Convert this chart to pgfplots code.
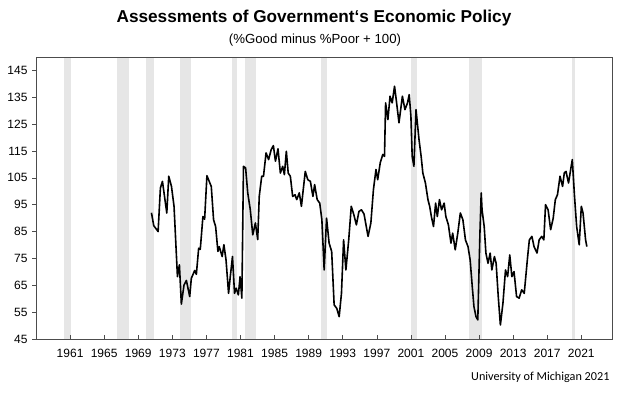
\documentclass[border=0pt]{standalone}
\usepackage{fontspec}
\setmainfont{Liberation Sans}
\newfontfamily\carlito{Carlito}
\usepackage{pgfplots}
\usepackage{pgfplotstable}
\pgfplotsset{compat=1.18}
\pgfplotstableread{
year val
1970.55 92
1970.82 87.2
1971.33 85
1971.6 101.2
1971.84 103.7
1972.35 91.9
1972.58 105.6
1972.9 101.8
1973.2 94.4
1973.6 68.2
1973.83 72.6
1974.06 58
1974.37 65.1
1974.65 66.8
1975.04 60.8
1975.23 67.6
1975.62 70.5
1975.82 69.1
1976.09 78.8
1976.28 78.4
1976.59 90.6
1976.79 89.6
1977.06 105.8
1977.57 101.8
1977.84 89.4
1978.08 86.9
1978.35 77.6
1978.5 79.4
1978.85 75.7
1979.05 80.1
1979.3 74.5
1979.6 62
1979.8 68.2
1980.06 75.7
1980.3 62
1980.5 63.9
1980.75 61.4
1980.95 68.2
1981.16 60.2
1981.35 109.3
1981.6 108.7
1981.85 99.4
1982.15 93.1
1982.44 83.8
1982.75 88.2
1983.02 82
1983.2 98.1
1983.49 105.6
1983.7 105.6
1984.0 114.3
1984.3 111.8
1984.6 115.5
1984.86 117
1985.1 111.2
1985.4 115.8
1985.68 106.8
1985.95 109.3
1986.15 106.2
1986.38 114.9
1986.6 106.8
1986.85 105.6
1987.12 98.1
1987.4 98.7
1987.6 96.9
1987.9 99.4
1988.15 94.4
1988.6 107.4
1988.9 104.3
1989.2 103.7
1989.5 98.1
1989.7 102.5
1990.0 96.9
1990.3 95.6
1990.55 89.4
1990.82 70.7
1991.1 90
1991.4 80.7
1991.7 77.6
1991.99 57.7
1992.3 56.4
1992.58 53.3
1992.85 62
1993.1 81.9
1993.37 70.7
1993.7 81.9
1994.0 94.4
1994.3 91.3
1994.6 87.5
1994.9 92.5
1995.2 93.1
1995.5 91.5
1995.97 83.2
1996.3 88.2
1996.6 100.6
1996.9 108.1
1997.1 104.3
1997.4 110.6
1997.7 113.7
1997.9 113
1998.03 132.9
1998.3 126.7
1998.55 135.4
1998.8 132.9
1999.08 139.1
1999.3 133.5
1999.6 125.5
2000.0 135.4
2000.3 130.4
2000.6 132.9
2000.8 136
2001.0 127.9
2001.15 113
2001.35 109.3
2001.6 130.4
2001.95 119.3
2002.2 113
2002.4 106.8
2002.7 103.1
2003.0 96.9
2003.2 94.4
2003.4 90.6
2003.65 86.9
2003.9 95.6
2004.1 90.6
2004.35 96.9
2004.6 93.1
2004.9 95.6
2005.1 90.6
2005.4 87.5
2005.7 80.7
2005.9 84.4
2006.2 78.2
2006.5 84.4
2006.8 91.9
2007.1 89.4
2007.4 81.9
2007.7 79.4
2007.95 74.5
2008.2 64.5
2008.4 57
2008.64 53.3
2008.85 52.1
2009.1 84.4
2009.25 99.4
2009.35 93.1
2009.6 86.9
2009.8 77
2010.05 73.2
2010.3 77
2010.5 70.7
2010.8 75.7
2011.0 73.2
2011.25 60.8
2011.5 50.2
2011.8 58.3
2012.1 70.7
2012.35 68.2
2012.6 76.3
2012.85 68.2
2013.1 70.1
2013.4 60.8
2013.7 60.2
2014.0 63.3
2014.3 62
2014.7 75.7
2014.9 81.9
2015.2 83.2
2015.45 79.4
2015.8 77
2016.05 81.9
2016.35 83.2
2016.6 81.9
2016.8 95
2017.1 93.1
2017.4 85.7
2017.7 90
2017.95 96.9
2018.2 98.7
2018.5 105.6
2018.8 101.8
2019.0 106.8
2019.2 107.4
2019.5 103.1
2019.75 108.1
2019.94 111.8
2020.2 98.1
2020.45 86.9
2020.75 80.1
2021.0 94.4
2021.2 91.9
2021.5 81.9
2021.65 79.4
}\policy
\definecolor{recess}{RGB}{230,230,230}
\begin{document}
\begin{tikzpicture}
\path[use as bounding box] (-36pt,-56pt) rectangle (588pt,339pt);
\begin{axis}[
  at={(0pt,0pt)}, anchor=south west,
  width=576pt, height=282pt, scale only axis,
  xmin=1957, xmax=2024.6, ymin=45, ymax=150,
  xtick={1961,1965,...,2021}, ytick={45,55,...,145},
  xtick pos=lower, ytick pos=left,
  x tick label style={/pgf/number format/1000 sep={}, yshift=-7pt},
  y tick label style={xshift=-1pt},
  tick label style={font=\fontsize{12}{14}\selectfont},
  /pgf/number format/assume math mode=true,
  axis line style={black!70, line width=0.8pt},
  every tick/.style={black!70, line width=0.6pt},
  major tick length=4pt,
  xtick align=inside, ytick align=outside,
  axis on top,
  clip=true,
]
\addplot[fill=recess, draw=none, forget plot] coordinates {(1960.3,45) (1960.3,150) (1961.1,150) (1961.1,45)} -- cycle;
\addplot[fill=recess, draw=none, forget plot] coordinates {(1966.45,45) (1966.45,150) (1967.9,150) (1967.9,45)} -- cycle;
\addplot[fill=recess, draw=none, forget plot] coordinates {(1969.95,45) (1969.95,150) (1970.85,150) (1970.85,45)} -- cycle;
\addplot[fill=recess, draw=none, forget plot] coordinates {(1973.9,45) (1973.9,150) (1975.2,150) (1975.2,45)} -- cycle;
\addplot[fill=recess, draw=none, forget plot] coordinates {(1980.0,45) (1980.0,150) (1980.55,150) (1980.55,45)} -- cycle;
\addplot[fill=recess, draw=none, forget plot] coordinates {(1981.5,45) (1981.5,150) (1982.85,150) (1982.85,45)} -- cycle;
\addplot[fill=recess, draw=none, forget plot] coordinates {(1990.5,45) (1990.5,150) (1991.15,150) (1991.15,45)} -- cycle;
\addplot[fill=recess, draw=none, forget plot] coordinates {(2001.05,45) (2001.05,150) (2001.75,150) (2001.75,45)} -- cycle;
\addplot[fill=recess, draw=none, forget plot] coordinates {(2007.8,45) (2007.8,150) (2009.35,150) (2009.35,45)} -- cycle;
\addplot[fill=recess, draw=none, forget plot] coordinates {(2019.9,45) (2019.9,150) (2020.2,150) (2020.2,45)} -- cycle;
\addplot[black, line width=1.6pt, line join=round] table[x=year, y=val] {\policy};
\end{axis}
\node[font=\bfseries\fontsize{17.2}{20}\selectfont] at (278pt,321pt) {Assessments of Government‘s Economic Policy};
\node[font=\fontsize{13.2}{16}\selectfont] at (279pt,299pt) {(\%Good minus \%Poor + 100)};
\node[font=\carlito\fontsize{12.2}{14}\selectfont, anchor=east] at (577pt,-38pt) {University of Michigan 2021};
\end{tikzpicture}
\end{document}
